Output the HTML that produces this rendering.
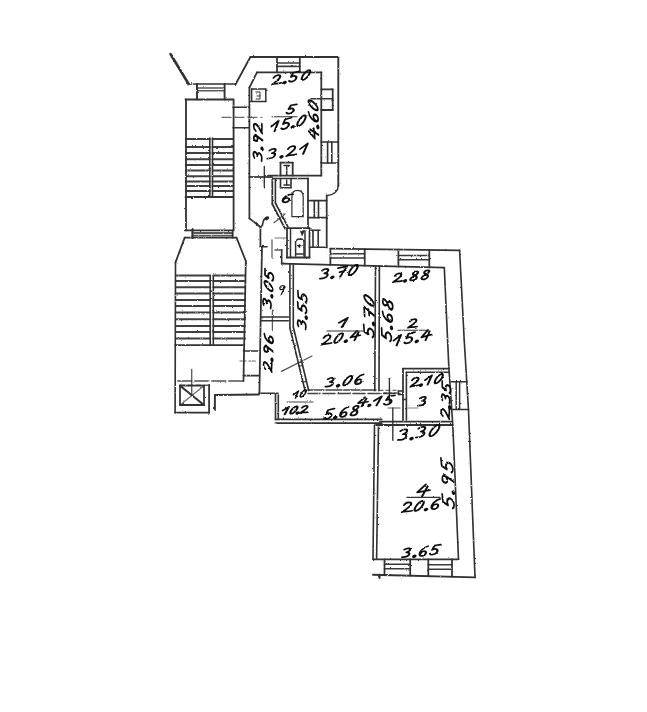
<!DOCTYPE html>
<html><head><meta charset="utf-8"><title>Floor plan</title>
<style>
html,body{margin:0;padding:0;background:#fff;}
body{width:647px;height:712px;overflow:hidden;font-family:"Liberation Sans",sans-serif;}
svg{display:block;}
svg line, svg path, svg circle, svg ellipse{stroke:#303030;stroke-linecap:round;stroke-linejoin:round;}
.t path{stroke:#101010;fill:none;}
</style></head><body>
<svg width="647" height="712" viewBox="0 0 647 712">
<defs><filter id="b" x="-2%" y="-2%" width="104%" height="104%"><feTurbulence type="fractalNoise" baseFrequency="0.6" numOctaves="2" seed="7" result="n0"/><feColorMatrix in="n0" type="matrix" values="1 0 0 0 0  0 1 0 0 0  0 0 1 0 0  0 0 0 0 1" result="n"/><feDisplacementMap in="SourceGraphic" in2="n" scale="2.0" xChannelSelector="R" yChannelSelector="G" result="d"/><feGaussianBlur in="d" stdDeviation="0.5"/></filter></defs>
<rect width="647" height="712" fill="#ffffff" stroke="none"/>
<g filter="url(#b)">
<g fill="none">
<line x1="170.5" y1="54" x2="188.6" y2="84" stroke-width="2.56"/>
<line x1="188.6" y1="84" x2="197" y2="84" stroke-width="1.62" stroke-dasharray="3 2"/>
<line x1="197" y1="84" x2="235.7" y2="84" stroke-width="1.62"/>
<line x1="235.7" y1="84" x2="250.4" y2="57" stroke-width="1.76"/>
<line x1="250.4" y1="57" x2="338.3" y2="57" stroke-width="1.89"/>
<line x1="197" y1="84" x2="197" y2="99.5" stroke-width="1.89"/>
<line x1="224.6" y1="84" x2="224.6" y2="99.5" stroke-width="1.89"/>
<line x1="197" y1="88" x2="224.6" y2="88" stroke-width="1.35" stroke-opacity="0.8"/>
<line x1="197" y1="90.7" x2="224.6" y2="90.7" stroke-width="1.35" stroke-opacity="0.8"/>
<line x1="185.5" y1="99.5" x2="233" y2="99.5" stroke-width="1.76"/>
<line x1="186" y1="99.5" x2="186" y2="230.4" stroke-width="1.82"/>
<line x1="233.6" y1="99.5" x2="233.6" y2="230.4" stroke-width="1.82"/>
<line x1="233" y1="107.2" x2="249.3" y2="107.2" stroke-width="1.62"/>
<line x1="233" y1="127.8" x2="249.3" y2="127.8" stroke-width="1.62"/>
<line x1="222" y1="117.3" x2="262" y2="117.3" stroke-width="1.35" stroke-opacity="0.7" stroke-dasharray="9 4"/>
<line x1="186" y1="139" x2="209.8" y2="139" stroke-width="1.96" stroke-opacity="0.92"/>
<line x1="212.5" y1="139" x2="233" y2="139" stroke-width="1.96" stroke-opacity="0.92"/>
<line x1="186" y1="147" x2="209.8" y2="147" stroke-width="1.96" stroke-opacity="0.92"/>
<line x1="212.5" y1="147" x2="233" y2="147" stroke-width="1.96" stroke-opacity="0.92"/>
<line x1="186" y1="153" x2="209.8" y2="153" stroke-width="1.96" stroke-opacity="0.92"/>
<line x1="212.5" y1="153" x2="233" y2="153" stroke-width="1.96" stroke-opacity="0.92"/>
<line x1="186" y1="159.3" x2="209.8" y2="159.3" stroke-width="1.96" stroke-opacity="0.92"/>
<line x1="212.5" y1="159.3" x2="233" y2="159.3" stroke-width="1.96" stroke-opacity="0.92"/>
<line x1="186" y1="165" x2="209.8" y2="165" stroke-width="1.96" stroke-opacity="0.92"/>
<line x1="212.5" y1="165" x2="233" y2="165" stroke-width="1.96" stroke-opacity="0.92"/>
<line x1="186" y1="170.6" x2="209.8" y2="170.6" stroke-width="1.96" stroke-opacity="0.92"/>
<line x1="212.5" y1="170.6" x2="233" y2="170.6" stroke-width="1.96" stroke-opacity="0.92"/>
<line x1="186" y1="176.3" x2="209.8" y2="176.3" stroke-width="1.96" stroke-opacity="0.92"/>
<line x1="212.5" y1="176.3" x2="233" y2="176.3" stroke-width="1.96" stroke-opacity="0.92"/>
<line x1="186" y1="181.4" x2="209.8" y2="181.4" stroke-width="1.96" stroke-opacity="0.92"/>
<line x1="212.5" y1="181.4" x2="233" y2="181.4" stroke-width="1.96" stroke-opacity="0.92"/>
<line x1="186" y1="186" x2="209.8" y2="186" stroke-width="1.96" stroke-opacity="0.92"/>
<line x1="212.5" y1="186" x2="233" y2="186" stroke-width="1.96" stroke-opacity="0.92"/>
<line x1="186" y1="191" x2="209.8" y2="191" stroke-width="1.96" stroke-opacity="0.92"/>
<line x1="212.5" y1="191" x2="233" y2="191" stroke-width="1.96" stroke-opacity="0.92"/>
<line x1="186" y1="197" x2="209.8" y2="197" stroke-width="1.96" stroke-opacity="0.92"/>
<line x1="212.5" y1="197" x2="233" y2="197" stroke-width="1.96" stroke-opacity="0.92"/>
<line x1="209.8" y1="138" x2="209.8" y2="197" stroke-width="1.62"/>
<line x1="212.5" y1="138" x2="212.5" y2="197" stroke-width="1.62"/>
<line x1="185.5" y1="197" x2="233" y2="197" stroke-width="1.76"/>
<line x1="185.5" y1="230.4" x2="233" y2="230.4" stroke-width="1.76"/>
<line x1="192.5" y1="229" x2="192.5" y2="238" stroke-width="2.16"/>
<line x1="232.6" y1="230.4" x2="232.6" y2="238" stroke-width="1.62"/>
<line x1="192.5" y1="233" x2="232.6" y2="233" stroke-width="1.76" stroke-opacity="0.8"/>
<line x1="192.5" y1="235.6" x2="232.6" y2="235.6" stroke-width="1.76" stroke-opacity="0.8"/>
<line x1="184.7" y1="237.6" x2="236.5" y2="237.6" stroke-width="1.76"/>
<line x1="184.7" y1="237.6" x2="175.5" y2="262.5" stroke-width="1.76"/>
<line x1="236.5" y1="237.6" x2="245.8" y2="261" stroke-width="1.76"/>
<line x1="175.5" y1="262.5" x2="175.1" y2="412.7" stroke-width="1.62"/>
<line x1="245.8" y1="261" x2="243.5" y2="381" stroke-width="1.76"/>
<line x1="176" y1="275.6" x2="210.2" y2="275.6" stroke-width="1.96" stroke-opacity="0.92"/>
<line x1="213.3" y1="275.6" x2="245" y2="275.6" stroke-width="1.96" stroke-opacity="0.92"/>
<line x1="176" y1="281" x2="210.2" y2="281" stroke-width="1.96" stroke-opacity="0.92"/>
<line x1="213.3" y1="281" x2="245" y2="281" stroke-width="1.96" stroke-opacity="0.92"/>
<line x1="176" y1="287.2" x2="210.2" y2="287.2" stroke-width="1.96" stroke-opacity="0.92"/>
<line x1="213.3" y1="287.2" x2="245" y2="287.2" stroke-width="1.96" stroke-opacity="0.92"/>
<line x1="176" y1="293.4" x2="210.2" y2="293.4" stroke-width="1.96" stroke-opacity="0.92"/>
<line x1="213.3" y1="293.4" x2="245" y2="293.4" stroke-width="1.96" stroke-opacity="0.92"/>
<line x1="176" y1="299.9" x2="210.2" y2="299.9" stroke-width="1.96" stroke-opacity="0.92"/>
<line x1="213.3" y1="299.9" x2="245" y2="299.9" stroke-width="1.96" stroke-opacity="0.92"/>
<line x1="176" y1="306" x2="210.2" y2="306" stroke-width="1.96" stroke-opacity="0.92"/>
<line x1="213.3" y1="306" x2="245" y2="306" stroke-width="1.96" stroke-opacity="0.92"/>
<line x1="176" y1="312.4" x2="210.2" y2="312.4" stroke-width="1.96" stroke-opacity="0.92"/>
<line x1="213.3" y1="312.4" x2="245" y2="312.4" stroke-width="1.96" stroke-opacity="0.92"/>
<line x1="176" y1="319.3" x2="210.2" y2="319.3" stroke-width="1.96" stroke-opacity="0.92"/>
<line x1="213.3" y1="319.3" x2="245" y2="319.3" stroke-width="1.96" stroke-opacity="0.92"/>
<line x1="176" y1="326" x2="210.2" y2="326" stroke-width="1.96" stroke-opacity="0.92"/>
<line x1="213.3" y1="326" x2="245" y2="326" stroke-width="1.96" stroke-opacity="0.92"/>
<line x1="176" y1="332" x2="210.2" y2="332" stroke-width="1.96" stroke-opacity="0.92"/>
<line x1="213.3" y1="332" x2="245" y2="332" stroke-width="1.96" stroke-opacity="0.92"/>
<line x1="176" y1="338.5" x2="210.2" y2="338.5" stroke-width="1.96" stroke-opacity="0.92"/>
<line x1="213.3" y1="338.5" x2="245" y2="338.5" stroke-width="1.96" stroke-opacity="0.92"/>
<line x1="175.3" y1="345.2" x2="244.3" y2="345.2" stroke-width="1.76"/>
<line x1="210.2" y1="275.6" x2="210.2" y2="345.2" stroke-width="1.62"/>
<line x1="213.3" y1="275.6" x2="213.3" y2="345.2" stroke-width="1.62"/>
<line x1="177.8" y1="381" x2="243.5" y2="381" stroke-width="1.49" stroke-opacity="0.85" stroke-dasharray="14 3"/>
<line x1="243.5" y1="351" x2="258" y2="351" stroke-width="1.62"/>
<line x1="243.5" y1="375.6" x2="258.5" y2="375.6" stroke-width="1.76"/>
<line x1="240" y1="361" x2="258" y2="361" stroke-width="1.35" stroke-opacity="0.5" stroke-dasharray="6 3"/>
<line x1="175.1" y1="412.7" x2="209.1" y2="412.7" stroke-width="1.76"/>
<line x1="209.1" y1="385" x2="209.1" y2="412.7" stroke-width="1.76"/>
<line x1="180" y1="385.3" x2="209.1" y2="385.3" stroke-width="1.49" stroke-opacity="0.8" stroke-dasharray="5 3"/>
<line x1="180" y1="385.7" x2="204" y2="385.7" stroke-width="1.76"/>
<line x1="204" y1="385.7" x2="204" y2="405" stroke-width="1.76"/>
<line x1="204" y1="405" x2="180" y2="405" stroke-width="1.76"/>
<line x1="180" y1="405" x2="180" y2="385.7" stroke-width="1.76"/>
<line x1="180" y1="385.7" x2="204" y2="405" stroke-width="2.03"/>
<line x1="180" y1="405" x2="204" y2="385.7" stroke-width="1.22" stroke-opacity="0.7"/>
<line x1="191.7" y1="369.5" x2="191.7" y2="394" stroke-width="1.35" stroke-opacity="0.8"/>
<line x1="214.9" y1="395" x2="214.9" y2="409.6" stroke-width="1.89"/>
<line x1="214.9" y1="395" x2="259" y2="394.5" stroke-width="1.76"/>
<line x1="338.3" y1="57" x2="338.3" y2="186" stroke-width="1.89"/>
<line x1="277" y1="57" x2="277" y2="72.3" stroke-width="1.76"/>
<line x1="299.8" y1="57" x2="299.8" y2="72.3" stroke-width="1.76"/>
<line x1="277" y1="63" x2="299.8" y2="63" stroke-width="1.62" stroke-opacity="0.95"/>
<line x1="277" y1="66.4" x2="299.8" y2="66.4" stroke-width="1.62" stroke-opacity="0.95"/>
<line x1="257" y1="72.3" x2="321.3" y2="72.3" stroke-width="1.76"/>
<line x1="257" y1="72.3" x2="249.4" y2="87.6" stroke-width="1.76"/>
<line x1="249.4" y1="87.6" x2="249.4" y2="218.4" stroke-width="1.76"/>
<line x1="321.3" y1="72.3" x2="321.3" y2="175.6" stroke-width="1.76"/>
<line x1="249.4" y1="177" x2="272" y2="177" stroke-width="2.03" stroke-opacity="0.85"/>
<line x1="268" y1="175.6" x2="321.3" y2="175.6" stroke-width="1.89"/>
<line x1="251.6" y1="89" x2="265.8" y2="89" stroke-width="1.49"/>
<line x1="265.8" y1="89" x2="265.8" y2="101.5" stroke-width="1.49"/>
<line x1="265.8" y1="101.5" x2="251.6" y2="101.5" stroke-width="1.49"/>
<line x1="251.6" y1="101.5" x2="251.6" y2="89" stroke-width="1.49"/>
<line x1="321.3" y1="89.3" x2="332.7" y2="89.3" stroke-width="1.76"/>
<line x1="332.7" y1="89.3" x2="332.7" y2="110" stroke-width="1.76"/>
<line x1="332.7" y1="110" x2="321.3" y2="110" stroke-width="1.76"/>
<line x1="311" y1="98.7" x2="332.7" y2="98.7" stroke-width="1.49"/>
<line x1="321.3" y1="142" x2="338" y2="142" stroke-width="1.62"/>
<line x1="321.3" y1="163" x2="338" y2="163" stroke-width="1.62"/>
<line x1="327.6" y1="142" x2="327.6" y2="163" stroke-width="1.62"/>
<line x1="331.8" y1="142" x2="331.8" y2="163" stroke-width="1.62"/>
<line x1="249.4" y1="218.4" x2="260.4" y2="227" stroke-width="1.76"/>
<line x1="260.4" y1="227" x2="260.4" y2="246.7" stroke-width="1.76"/>
<line x1="264.3" y1="166.5" x2="264.3" y2="187.8" stroke-width="1.35"/>
<line x1="272.3" y1="178.5" x2="308" y2="178.5" stroke-width="1.62"/>
<line x1="308" y1="178.5" x2="308" y2="227" stroke-width="1.76"/>
<line x1="272.3" y1="178.5" x2="272.3" y2="204" stroke-width="1.76"/>
<line x1="272.3" y1="204" x2="285" y2="228.6" stroke-width="1.76"/>
<line x1="275.4" y1="178.5" x2="275.4" y2="203" stroke-width="1.62"/>
<line x1="275.4" y1="203" x2="288" y2="227" stroke-width="1.62"/>
<line x1="280.5" y1="175.6" x2="280.5" y2="162.6" stroke-width="1.76"/>
<line x1="280.5" y1="162.6" x2="292.7" y2="162.6" stroke-width="1.76"/>
<line x1="292.7" y1="162.6" x2="292.7" y2="175.6" stroke-width="1.76"/>
<line x1="280.5" y1="178.5" x2="280.5" y2="187.8" stroke-width="1.62"/>
<line x1="280.5" y1="187.8" x2="291" y2="187.8" stroke-width="1.62"/>
<line x1="291" y1="187.8" x2="291" y2="178.5" stroke-width="1.62"/>
<line x1="284" y1="165.5" x2="289.5" y2="165.5" stroke-width="1.49"/>
<line x1="286.7" y1="165.5" x2="286.7" y2="175" stroke-width="1.49"/>
<line x1="284" y1="185" x2="289.5" y2="185" stroke-width="1.35"/>
<line x1="286.7" y1="180" x2="286.7" y2="185" stroke-width="1.35"/>
<line x1="308" y1="200.6" x2="326.7" y2="200.6" stroke-width="1.62"/>
<line x1="308" y1="217.6" x2="326.7" y2="217.6" stroke-width="1.62"/>
<line x1="314.3" y1="200.6" x2="314.3" y2="217.6" stroke-width="1.62"/>
<line x1="318.5" y1="200.6" x2="318.5" y2="217.6" stroke-width="1.62"/>
<line x1="313" y1="230.3" x2="313" y2="247.3" stroke-width="1.62"/>
<line x1="318.2" y1="230.3" x2="318.2" y2="247.3" stroke-width="1.62"/>
<line x1="311" y1="230.3" x2="320" y2="230.3" stroke-width="1.49"/>
<line x1="309.5" y1="247.3" x2="326.7" y2="247.3" stroke-width="1.62"/>
<line x1="326.7" y1="195.5" x2="326.7" y2="247.5" stroke-width="1.76"/>
<line x1="287" y1="228.2" x2="309.5" y2="228.2" stroke-width="1.76"/>
<line x1="309.5" y1="228.2" x2="309.5" y2="257.5" stroke-width="1.76"/>
<line x1="309.5" y1="257.5" x2="287" y2="257.5" stroke-width="1.76"/>
<line x1="287" y1="257.5" x2="287" y2="228.2" stroke-width="1.76"/>
<line x1="290.5" y1="229" x2="290.5" y2="257.5" stroke-width="1.49"/>
<line x1="305" y1="231" x2="305" y2="257.5" stroke-width="1.49"/>
<line x1="295.6" y1="256" x2="295.6" y2="241" stroke-width="1.49"/>
<line x1="295.6" y1="241" x2="298" y2="239.2" stroke-width="1.49"/>
<line x1="298" y1="239.2" x2="302" y2="239.2" stroke-width="1.49"/>
<line x1="302" y1="239.2" x2="304" y2="241" stroke-width="1.49"/>
<line x1="304" y1="241" x2="304" y2="256" stroke-width="1.49"/>
<line x1="295.6" y1="254" x2="304" y2="254" stroke-width="1.35"/>
<line x1="274" y1="222.7" x2="285" y2="214" stroke-width="1.22" stroke-opacity="0.8"/>
<line x1="260.4" y1="246.7" x2="267" y2="246.7" stroke-width="1.62"/>
<line x1="272" y1="239.8" x2="272" y2="258.3" stroke-width="1.22" stroke-opacity="0.8"/>
<line x1="275" y1="238" x2="287" y2="238" stroke-width="1.22" stroke-opacity="0.7"/>
<line x1="275" y1="250" x2="282" y2="250" stroke-width="1.35" stroke-opacity="0.8"/>
<line x1="281.7" y1="249.8" x2="281.7" y2="263.7" stroke-width="1.62"/>
<line x1="281.7" y1="263.7" x2="444.3" y2="267.7" stroke-width="1.76"/>
<line x1="330.4" y1="248.7" x2="459.6" y2="250.4" stroke-width="1.76"/>
<line x1="330.4" y1="248.7" x2="330.4" y2="264.9" stroke-width="1.76"/>
<line x1="364.7" y1="249.2" x2="364.7" y2="265.7" stroke-width="1.76"/>
<line x1="330.4" y1="253.8" x2="364.7" y2="253.8" stroke-width="1.62" stroke-opacity="0.95"/>
<line x1="330.4" y1="258" x2="364.7" y2="258" stroke-width="1.62" stroke-opacity="0.95"/>
<line x1="398.4" y1="249.6" x2="398.4" y2="266.6" stroke-width="1.76"/>
<line x1="429.3" y1="250" x2="429.3" y2="267.3" stroke-width="1.76"/>
<line x1="398.4" y1="255.5" x2="429.3" y2="255.5" stroke-width="1.62" stroke-opacity="0.95"/>
<line x1="398.4" y1="259.8" x2="429.3" y2="259.8" stroke-width="1.62" stroke-opacity="0.95"/>
<line x1="375.5" y1="265.9" x2="374.8" y2="390.8" stroke-width="1.62"/>
<line x1="379.4" y1="266" x2="379" y2="390.8" stroke-width="1.62"/>
<line x1="444.3" y1="267.7" x2="448.9" y2="368.6" stroke-width="1.62"/>
<line x1="448.9" y1="368.6" x2="452.8" y2="425" stroke-width="1.62"/>
<line x1="452.8" y1="425" x2="458.5" y2="559.3" stroke-width="1.62"/>
<line x1="459.6" y1="250.4" x2="464.2" y2="340" stroke-width="1.62"/>
<line x1="464.2" y1="340" x2="468.5" y2="410" stroke-width="1.62"/>
<line x1="468.5" y1="410" x2="475" y2="577.4" stroke-width="1.62"/>
<line x1="262" y1="247" x2="261" y2="300" stroke-width="1.76"/>
<line x1="261" y1="300" x2="259.4" y2="393.5" stroke-width="1.76"/>
<line x1="289.9" y1="263.7" x2="289.9" y2="328" stroke-width="1.62"/>
<line x1="289.9" y1="328" x2="305.3" y2="391.8" stroke-width="1.62"/>
<line x1="293.3" y1="263.7" x2="293.3" y2="327" stroke-width="1.62"/>
<line x1="293.3" y1="327" x2="308.7" y2="390.5" stroke-width="1.62"/>
<line x1="294.212" y1="345.86400000000003" x2="297.61199999999997" y2="345.064" stroke-width="1.22"/>
<line x1="299.14" y1="366.28000000000003" x2="302.53999999999996" y2="365.48" stroke-width="1.22"/>
<line x1="302.99" y1="382.23" x2="306.39" y2="381.43" stroke-width="1.22"/>
<line x1="261" y1="317" x2="288.3" y2="317" stroke-width="1.49"/>
<line x1="261" y1="320.7" x2="288.3" y2="320.7" stroke-width="1.49"/>
<line x1="272.4" y1="310" x2="272.4" y2="329.7" stroke-width="1.22" stroke-opacity="0.8"/>
<line x1="281.5" y1="371.4" x2="312" y2="356" stroke-width="1.22" stroke-opacity="0.85"/>
<line x1="308" y1="390" x2="376" y2="390" stroke-width="1.49" stroke-opacity="0.9" stroke-dasharray="16 2"/>
<line x1="308" y1="393.4" x2="400" y2="393.4" stroke-width="1.49" stroke-opacity="0.9" stroke-dasharray="12 3"/>
<line x1="379" y1="390.3" x2="400" y2="390.3" stroke-width="1.35" stroke-opacity="0.7" stroke-dasharray="4 3"/>
<line x1="259" y1="393.3" x2="278" y2="393.3" stroke-width="1.62"/>
<line x1="275.5" y1="393.5" x2="275.5" y2="419.4" stroke-width="1.62"/>
<line x1="278.3" y1="395" x2="278.3" y2="419.4" stroke-width="1.62"/>
<line x1="275.5" y1="419.4" x2="381.6" y2="419.4" stroke-width="1.76"/>
<line x1="275.5" y1="423.2" x2="381.6" y2="423.2" stroke-width="1.76"/>
<line x1="403" y1="368.6" x2="448.9" y2="368.6" stroke-width="1.76"/>
<line x1="406.4" y1="372.3" x2="448.9" y2="372.3" stroke-width="1.62"/>
<line x1="403" y1="368.6" x2="403" y2="420" stroke-width="1.76"/>
<line x1="406.4" y1="372.3" x2="406.4" y2="420" stroke-width="1.62"/>
<line x1="398.4" y1="391" x2="402.6" y2="391" stroke-width="1.35"/>
<line x1="402.6" y1="391" x2="402.6" y2="394.6" stroke-width="1.35"/>
<line x1="402.6" y1="394.6" x2="398.4" y2="394.6" stroke-width="1.35"/>
<line x1="398.4" y1="394.6" x2="398.4" y2="391" stroke-width="1.35"/>
<line x1="403" y1="399.5" x2="406.4" y2="399.5" stroke-width="1.35"/>
<line x1="380" y1="421.6" x2="451.4" y2="421.6" stroke-width="1.76"/>
<line x1="376" y1="425" x2="452" y2="425" stroke-width="1.76"/>
<line x1="451" y1="381.7" x2="467" y2="381.7" stroke-width="1.49"/>
<line x1="452" y1="409.4" x2="468.4" y2="409.4" stroke-width="1.49"/>
<line x1="456.2" y1="381.7" x2="456.2" y2="409.4" stroke-width="1.49"/>
<line x1="459.6" y1="381.7" x2="459.6" y2="409.4" stroke-width="1.49"/>
<line x1="389.4" y1="378.3" x2="389.4" y2="403" stroke-width="1.35"/>
<line x1="392.8" y1="408" x2="392.8" y2="440.3" stroke-width="1.35"/>
<line x1="388" y1="408" x2="400" y2="408" stroke-width="1.22" stroke-opacity="0.8"/>
<line x1="408" y1="408" x2="418" y2="408" stroke-width="1.08" stroke-opacity="0.6"/>
<line x1="384" y1="393" x2="398" y2="393" stroke-width="1.35" stroke-opacity="0.8" stroke-dasharray="3 2"/>
<line x1="374.5" y1="425" x2="373" y2="559.3" stroke-width="1.62"/>
<line x1="378.5" y1="425" x2="376.6" y2="559.3" stroke-width="1.62"/>
<line x1="373" y1="559.3" x2="458.5" y2="559.3" stroke-width="1.76"/>
<line x1="373" y1="574.7" x2="475" y2="577.4" stroke-width="1.89"/>
<line x1="384.5" y1="559.3" x2="384.5" y2="575" stroke-width="1.76"/>
<line x1="410.2" y1="559.3" x2="410.2" y2="575.6" stroke-width="1.76"/>
<line x1="384.5" y1="564.3" x2="410.2" y2="564.3" stroke-width="1.62" stroke-opacity="0.95"/>
<line x1="384.5" y1="568.7" x2="410.2" y2="568.7" stroke-width="1.62" stroke-opacity="0.95"/>
<line x1="428.3" y1="559.3" x2="428.3" y2="576" stroke-width="1.76"/>
<line x1="452" y1="559.3" x2="452" y2="576.6" stroke-width="1.76"/>
<line x1="428.3" y1="564.7" x2="452" y2="564.7" stroke-width="1.62" stroke-opacity="0.95"/>
<line x1="428.3" y1="569.3" x2="452" y2="569.3" stroke-width="1.62" stroke-opacity="0.95"/>
<line x1="379.5" y1="574.7" x2="379.5" y2="578" stroke-width="2.03"/>

<path d="M338.3 186 Q338 194 326.7 195.8" fill="none" stroke-width="1.4"/>
<path d="M291.9 216.7 L291.9 197 Q291.9 190.4 297.5 190.4 Q303.2 190.4 303.2 197 L303.2 216.7 Z" fill="none" stroke-width="1.2"/>
<circle cx="299.5" cy="246" r="1.3" fill="#111" stroke="none"/>
<path d="M256 92 l4 0 l0 4 l-3 0 m3 0 l0 3 l-4 0" fill="none" stroke-width="1"/>
<path d="M304.5 230.8 l-2.4 4.8 l-1.6 -4.2 z" fill="#222" stroke-width="0.8"/>
<path d="M266.5 217.5 q-3 1.5 -3.5 5 q0 2 -1.5 4" fill="none" stroke-width="1.6"/>
<ellipse cx="267" cy="218.3" rx="1.9" ry="1.3" fill="#111" stroke="none" transform="rotate(-30 267 218.3)"/>

</g>
<g class="t" fill="none">
<g transform="translate(272 85) rotate(-9) scale(1.170 0.900) skewX(-8)"><path d="M1.2,-7.5 C2.5,-10.5 8,-10.8 6.8,-7 C5.8,-4 1,-2 0,-0.3 C2,-1.8 4.5,0.2 8,-0.8" transform="translate(0.00 0)" stroke-width="1.89"/><path d="M0.6,-0.4 L0.9,-0.6" transform="translate(10.20 0)" stroke-width="3.59"/><path d="M8.5,-10.3 L3.3,-9.8 L1.6,-5.5 C5,-7.5 7.5,-4.5 5.5,-1.8 C4,0.2 1,0.2 0,-1.5" transform="translate(14.79 0)" stroke-width="1.89"/><path d="M7.27,-9.75 L7.79,-8.92 L7.78,-7.50 L7.24,-5.69 L6.25,-3.78 L4.97,-2.06 L3.58,-0.78 L2.30,-0.15 L1.33,-0.25 L0.81,-1.08 L0.82,-2.50 L1.36,-4.31 L2.35,-6.22 L3.63,-7.94 L5.02,-9.22 L6.30,-9.85 Z" transform="translate(24.99 0)" stroke-width="1.89"/></g>
<g transform="translate(286.5 114) rotate(-5) scale(1.105 0.850) skewX(-8)"><path d="M8.5,-10.3 L3.3,-9.8 L1.6,-5.5 C5,-7.5 7.5,-4.5 5.5,-1.8 C4,0.2 1,0.2 0,-1.5" transform="translate(0.00 0)" stroke-width="2.00"/></g>
<line x1="272" y1="116.8" x2="297" y2="116.8" stroke-width="1.1"/>
<g transform="translate(271 132) rotate(-12) scale(1.235 0.950) skewX(-8)"><path d="M0.5,-5.5 L6.5,-10 L3,0" transform="translate(0.00 0)" stroke-width="1.79"/><path d="M8.5,-10.3 L3.3,-9.8 L1.6,-5.5 C5,-7.5 7.5,-4.5 5.5,-1.8 C4,0.2 1,0.2 0,-1.5" transform="translate(8.60 0)" stroke-width="1.79"/><path d="M0.6,-0.4 L0.9,-0.6" transform="translate(17.20 0)" stroke-width="3.40"/><path d="M7.27,-9.75 L7.79,-8.92 L7.78,-7.50 L7.24,-5.69 L6.25,-3.78 L4.97,-2.06 L3.58,-0.78 L2.30,-0.15 L1.33,-0.25 L0.81,-1.08 L0.82,-2.50 L1.36,-4.31 L2.35,-6.22 L3.63,-7.94 L5.02,-9.22 L6.30,-9.85 Z" transform="translate(21.07 0)" stroke-width="1.79"/></g>
<g transform="translate(318.5 139.5) rotate(-91) scale(1.235 0.950) skewX(-8)"><path d="M5.5,-10 L0.3,-3.8 L8.5,-4.8 M7,-8.5 L3.8,0" transform="translate(0.00 0)" stroke-width="1.79"/><path d="M0.6,-0.4 L0.9,-0.6" transform="translate(9.30 0)" stroke-width="3.40"/><path d="M7.5,-10 C3.5,-9.5 0.2,-4.5 1,-1.5 C1.8,1 6,0.2 6.2,-3 C6.3,-6 2,-5.5 1.2,-2" transform="translate(13.49 0)" stroke-width="1.79"/><path d="M7.27,-9.75 L7.79,-8.92 L7.78,-7.50 L7.24,-5.69 L6.25,-3.78 L4.97,-2.06 L3.58,-0.78 L2.30,-0.15 L1.33,-0.25 L0.81,-1.08 L0.82,-2.50 L1.36,-4.31 L2.35,-6.22 L3.63,-7.94 L5.02,-9.22 L6.30,-9.85 Z" transform="translate(22.79 0)" stroke-width="1.79"/></g>
<g transform="translate(262.5 161) rotate(-90) scale(1.170 0.900) skewX(-8)"><path d="M1.5,-9 C4,-11 8.5,-10 5.5,-6.5 L3.5,-5.8 C8,-5.5 6.5,0.3 0,-1" transform="translate(0.00 0)" stroke-width="1.89"/><path d="M0.6,-0.4 L0.9,-0.6" transform="translate(9.60 0)" stroke-width="3.59"/><path d="M7.3,-7.2 C6.5,-10.5 2.2,-10.5 2.2,-7.2 C2.2,-4.5 6.2,-5 7.3,-8 L3.8,0" transform="translate(13.92 0)" stroke-width="1.89"/><path d="M1.2,-7.5 C2.5,-10.5 8,-10.8 6.8,-7 C5.8,-4 1,-2 0,-0.3 C2,-1.8 4.5,0.2 8,-0.8" transform="translate(23.52 0)" stroke-width="1.89"/></g>
<g transform="translate(267.5 159.5) rotate(-9) scale(1.235 0.950) skewX(-8)"><path d="M1.5,-9 C4,-11 8.5,-10 5.5,-6.5 L3.5,-5.8 C8,-5.5 6.5,0.3 0,-1" transform="translate(0.00 0)" stroke-width="1.79"/><path d="M0.6,-0.4 L0.9,-0.6" transform="translate(10.70 0)" stroke-width="3.40"/><path d="M1.2,-7.5 C2.5,-10.5 8,-10.8 6.8,-7 C5.8,-4 1,-2 0,-0.3 C2,-1.8 4.5,0.2 8,-0.8" transform="translate(15.51 0)" stroke-width="1.79"/><path d="M0.5,-5.5 L6.5,-10 L3,0" transform="translate(26.21 0)" stroke-width="1.79"/></g>
<g transform="translate(281 201.5) rotate(12) scale(1.140 0.950) skewX(-8)"><path d="M7.5,-10 C3.5,-9.5 0.2,-4.5 1,-1.5 C1.8,1 6,0.2 6.2,-3 C6.3,-6 2,-5.5 1.2,-2" transform="translate(0.00 0)" stroke-width="1.79"/></g>
<g transform="translate(271.5 308.5) rotate(-86) scale(1.170 0.900) skewX(-8)"><path d="M1.5,-9 C4,-11 8.5,-10 5.5,-6.5 L3.5,-5.8 C8,-5.5 6.5,0.3 0,-1" transform="translate(0.00 0)" stroke-width="1.89"/><path d="M0.6,-0.4 L0.9,-0.6" transform="translate(9.60 0)" stroke-width="3.59"/><path d="M7.27,-9.75 L7.79,-8.92 L7.78,-7.50 L7.24,-5.69 L6.25,-3.78 L4.97,-2.06 L3.58,-0.78 L2.30,-0.15 L1.33,-0.25 L0.81,-1.08 L0.82,-2.50 L1.36,-4.31 L2.35,-6.22 L3.63,-7.94 L5.02,-9.22 L6.30,-9.85 Z" transform="translate(13.92 0)" stroke-width="1.89"/><path d="M8.5,-10.3 L3.3,-9.8 L1.6,-5.5 C5,-7.5 7.5,-4.5 5.5,-1.8 C4,0.2 1,0.2 0,-1.5" transform="translate(23.52 0)" stroke-width="1.89"/></g>
<g transform="translate(277.5 295) rotate(-8) scale(1.012 0.880) skewX(-8)"><path d="M7.3,-7.2 C6.5,-10.5 2.2,-10.5 2.2,-7.2 C2.2,-4.5 6.2,-5 7.3,-8 L3.8,0" transform="translate(0.00 0)" stroke-width="1.31"/></g>
<g transform="translate(306.5 329.5) rotate(-89) scale(1.170 0.900) skewX(-8)"><path d="M1.5,-9 C4,-11 8.5,-10 5.5,-6.5 L3.5,-5.8 C8,-5.5 6.5,0.3 0,-1" transform="translate(0.00 0)" stroke-width="1.89"/><path d="M0.6,-0.4 L0.9,-0.6" transform="translate(9.40 0)" stroke-width="3.59"/><path d="M8.5,-10.3 L3.3,-9.8 L1.6,-5.5 C5,-7.5 7.5,-4.5 5.5,-1.8 C4,0.2 1,0.2 0,-1.5" transform="translate(13.63 0)" stroke-width="1.89"/><path d="M8.5,-10.3 L3.3,-9.8 L1.6,-5.5 C5,-7.5 7.5,-4.5 5.5,-1.8 C4,0.2 1,0.2 0,-1.5" transform="translate(23.03 0)" stroke-width="1.89"/></g>
<g transform="translate(272 372) rotate(-88) scale(1.170 0.900) skewX(-8)"><path d="M1.2,-7.5 C2.5,-10.5 8,-10.8 6.8,-7 C5.8,-4 1,-2 0,-0.3 C2,-1.8 4.5,0.2 8,-0.8" transform="translate(0.00 0)" stroke-width="1.89"/><path d="M0.6,-0.4 L0.9,-0.6" transform="translate(9.60 0)" stroke-width="3.59"/><path d="M7.3,-7.2 C6.5,-10.5 2.2,-10.5 2.2,-7.2 C2.2,-4.5 6.2,-5 7.3,-8 L3.8,0" transform="translate(13.92 0)" stroke-width="1.89"/><path d="M7.5,-10 C3.5,-9.5 0.2,-4.5 1,-1.5 C1.8,1 6,0.2 6.2,-3 C6.3,-6 2,-5.5 1.2,-2" transform="translate(23.52 0)" stroke-width="1.89"/></g>
<g transform="translate(320 279.5) rotate(-8) scale(1.235 0.950) skewX(-8)"><path d="M1.5,-9 C4,-11 8.5,-10 5.5,-6.5 L3.5,-5.8 C8,-5.5 6.5,0.3 0,-1" transform="translate(0.00 0)" stroke-width="1.79"/><path d="M0.6,-0.4 L0.9,-0.6" transform="translate(9.30 0)" stroke-width="3.40"/><path d="M1,-9.3 L8.5,-10 L3,0 M2.5,-4.8 L7,-5.5" transform="translate(13.49 0)" stroke-width="1.79"/><path d="M7.27,-9.75 L7.79,-8.92 L7.78,-7.50 L7.24,-5.69 L6.25,-3.78 L4.97,-2.06 L3.58,-0.78 L2.30,-0.15 L1.33,-0.25 L0.81,-1.08 L0.82,-2.50 L1.36,-4.31 L2.35,-6.22 L3.63,-7.94 L5.02,-9.22 L6.30,-9.85 Z" transform="translate(22.79 0)" stroke-width="1.79"/></g>
<g transform="translate(374 337.5) rotate(-90) scale(1.300 1.000) skewX(-8)"><path d="M8.5,-10.3 L3.3,-9.8 L1.6,-5.5 C5,-7.5 7.5,-4.5 5.5,-1.8 C4,0.2 1,0.2 0,-1.5" transform="translate(0.00 0)" stroke-width="1.70"/><path d="M0.6,-0.4 L0.9,-0.6" transform="translate(9.60 0)" stroke-width="3.23"/><path d="M1,-9.3 L8.5,-10 L3,0 M2.5,-4.8 L7,-5.5" transform="translate(13.92 0)" stroke-width="1.70"/><path d="M7.27,-9.75 L7.79,-8.92 L7.78,-7.50 L7.24,-5.69 L6.25,-3.78 L4.97,-2.06 L3.58,-0.78 L2.30,-0.15 L1.33,-0.25 L0.81,-1.08 L0.82,-2.50 L1.36,-4.31 L2.35,-6.22 L3.63,-7.94 L5.02,-9.22 L6.30,-9.85 Z" transform="translate(23.52 0)" stroke-width="1.70"/></g>
<g transform="translate(391.5 341.5) rotate(-88) scale(1.300 1.000) skewX(-8)"><path d="M8.5,-10.3 L3.3,-9.8 L1.6,-5.5 C5,-7.5 7.5,-4.5 5.5,-1.8 C4,0.2 1,0.2 0,-1.5" transform="translate(0.00 0)" stroke-width="1.70"/><path d="M0.6,-0.4 L0.9,-0.6" transform="translate(9.60 0)" stroke-width="3.23"/><path d="M7.5,-10 C3.5,-9.5 0.2,-4.5 1,-1.5 C1.8,1 6,0.2 6.2,-3 C6.3,-6 2,-5.5 1.2,-2" transform="translate(13.92 0)" stroke-width="1.70"/><path d="M5,-5.4 C1.5,-7 3,-10.5 6.2,-10 C9,-9.3 6.5,-6 4.2,-5 C0,-3 0,0 3,0 C7,0 7.5,-4 5,-5.4 Z" transform="translate(23.52 0)" stroke-width="1.70"/></g>
<g transform="translate(338 327.5) rotate(-5) scale(1.320 0.880) skewX(-8)"><path d="M0.5,-5.5 L6.5,-10 L3,0" transform="translate(0.00 0)" stroke-width="1.93"/></g>
<line x1="327" y1="331" x2="363" y2="331" stroke-width="1.1"/>
<g transform="translate(322 345) rotate(-8) scale(1.170 0.900) skewX(-8)"><path d="M1.2,-7.5 C2.5,-10.5 8,-10.8 6.8,-7 C5.8,-4 1,-2 0,-0.3 C2,-1.8 4.5,0.2 8,-0.8" transform="translate(0.00 0)" stroke-width="1.89"/><path d="M7.27,-9.75 L7.79,-8.92 L7.78,-7.50 L7.24,-5.69 L6.25,-3.78 L4.97,-2.06 L3.58,-0.78 L2.30,-0.15 L1.33,-0.25 L0.81,-1.08 L0.82,-2.50 L1.36,-4.31 L2.35,-6.22 L3.63,-7.94 L5.02,-9.22 L6.30,-9.85 Z" transform="translate(9.90 0)" stroke-width="1.89"/><path d="M0.6,-0.4 L0.9,-0.6" transform="translate(19.80 0)" stroke-width="3.59"/><path d="M5.5,-10 L0.3,-3.8 L8.5,-4.8 M7,-8.5 L3.8,0" transform="translate(24.26 0)" stroke-width="1.89"/></g>
<g transform="translate(393 282.5) rotate(-6) scale(1.105 0.850) skewX(-8)"><path d="M1.2,-7.5 C2.5,-10.5 8,-10.8 6.8,-7 C5.8,-4 1,-2 0,-0.3 C2,-1.8 4.5,0.2 8,-0.8" transform="translate(0.00 0)" stroke-width="2.00"/><path d="M0.6,-0.4 L0.9,-0.6" transform="translate(10.20 0)" stroke-width="3.80"/><path d="M5,-5.4 C1.5,-7 3,-10.5 6.2,-10 C9,-9.3 6.5,-6 4.2,-5 C0,-3 0,0 3,0 C7,0 7.5,-4 5,-5.4 Z" transform="translate(14.79 0)" stroke-width="2.00"/><path d="M5,-5.4 C1.5,-7 3,-10.5 6.2,-10 C9,-9.3 6.5,-6 4.2,-5 C0,-3 0,0 3,0 C7,0 7.5,-4 5,-5.4 Z" transform="translate(24.99 0)" stroke-width="2.00"/></g>
<g transform="translate(408 328) rotate(-5) scale(1.105 0.850) skewX(-8)"><path d="M1.2,-7.5 C2.5,-10.5 8,-10.8 6.8,-7 C5.8,-4 1,-2 0,-0.3 C2,-1.8 4.5,0.2 8,-0.8" transform="translate(0.00 0)" stroke-width="2.00"/></g>
<line x1="398" y1="330.3" x2="428" y2="330.3" stroke-width="1.1"/>
<g transform="translate(393 346) rotate(-10) scale(1.235 0.950) skewX(-8)"><path d="M0.5,-5.5 L6.5,-10 L3,0" transform="translate(0.00 0)" stroke-width="1.79"/><path d="M8.5,-10.3 L3.3,-9.8 L1.6,-5.5 C5,-7.5 7.5,-4.5 5.5,-1.8 C4,0.2 1,0.2 0,-1.5" transform="translate(9.40 0)" stroke-width="1.79"/><path d="M0.6,-0.4 L0.9,-0.6" transform="translate(18.80 0)" stroke-width="3.40"/><path d="M5.5,-10 L0.3,-3.8 L8.5,-4.8 M7,-8.5 L3.8,0" transform="translate(23.03 0)" stroke-width="1.79"/></g>
<g transform="translate(325.5 387.5) rotate(-6) scale(1.170 0.900) skewX(-8)"><path d="M1.5,-9 C4,-11 8.5,-10 5.5,-6.5 L3.5,-5.8 C8,-5.5 6.5,0.3 0,-1" transform="translate(0.00 0)" stroke-width="1.89"/><path d="M0.6,-0.4 L0.9,-0.6" transform="translate(10.00 0)" stroke-width="3.59"/><path d="M7.27,-9.75 L7.79,-8.92 L7.78,-7.50 L7.24,-5.69 L6.25,-3.78 L4.97,-2.06 L3.58,-0.78 L2.30,-0.15 L1.33,-0.25 L0.81,-1.08 L0.82,-2.50 L1.36,-4.31 L2.35,-6.22 L3.63,-7.94 L5.02,-9.22 L6.30,-9.85 Z" transform="translate(14.50 0)" stroke-width="1.89"/><path d="M7.5,-10 C3.5,-9.5 0.2,-4.5 1,-1.5 C1.8,1 6,0.2 6.2,-3 C6.3,-6 2,-5.5 1.2,-2" transform="translate(24.50 0)" stroke-width="1.89"/></g>
<g transform="translate(293 398.5) rotate(-10) scale(0.845 0.650) skewX(-8)"><path d="M0.5,-5.5 L6.5,-10 L3,0" transform="translate(0.00 0)" stroke-width="2.00"/><path d="M7.27,-9.75 L7.79,-8.92 L7.78,-7.50 L7.24,-5.69 L6.25,-3.78 L4.97,-2.06 L3.58,-0.78 L2.30,-0.15 L1.33,-0.25 L0.81,-1.08 L0.82,-2.50 L1.36,-4.31 L2.35,-6.22 L3.63,-7.94 L5.02,-9.22 L6.30,-9.85 Z" transform="translate(8.00 0)" stroke-width="2.00"/></g>
<line x1="287" y1="402" x2="313" y2="402" stroke-width="0.9"/>
<g transform="translate(282 414.5) rotate(-4) scale(0.936 0.720) skewX(-8)"><path d="M0.5,-5.5 L6.5,-10 L3,0" transform="translate(0.00 0)" stroke-width="2.36"/><path d="M7.27,-9.75 L7.79,-8.92 L7.78,-7.50 L7.24,-5.69 L6.25,-3.78 L4.97,-2.06 L3.58,-0.78 L2.30,-0.15 L1.33,-0.25 L0.81,-1.08 L0.82,-2.50 L1.36,-4.31 L2.35,-6.22 L3.63,-7.94 L5.02,-9.22 L6.30,-9.85 Z" transform="translate(8.00 0)" stroke-width="2.36"/><path d="M0.6,-0.4 L0.9,-0.6" transform="translate(16.00 0)" stroke-width="4.49"/><path d="M1.2,-7.5 C2.5,-10.5 8,-10.8 6.8,-7 C5.8,-4 1,-2 0,-0.3 C2,-1.8 4.5,0.2 8,-0.8" transform="translate(19.60 0)" stroke-width="2.36"/></g>
<g transform="translate(324 419.5) rotate(-8) scale(1.170 0.900) skewX(-8)"><path d="M8.5,-10.3 L3.3,-9.8 L1.6,-5.5 C5,-7.5 7.5,-4.5 5.5,-1.8 C4,0.2 1,0.2 0,-1.5" transform="translate(0.00 0)" stroke-width="1.89"/><path d="M0.6,-0.4 L0.9,-0.6" transform="translate(9.00 0)" stroke-width="3.59"/><path d="M7.5,-10 C3.5,-9.5 0.2,-4.5 1,-1.5 C1.8,1 6,0.2 6.2,-3 C6.3,-6 2,-5.5 1.2,-2" transform="translate(13.05 0)" stroke-width="1.89"/><path d="M5,-5.4 C1.5,-7 3,-10.5 6.2,-10 C9,-9.3 6.5,-6 4.2,-5 C0,-3 0,0 3,0 C7,0 7.5,-4 5,-5.4 Z" transform="translate(22.05 0)" stroke-width="1.89"/></g>
<g transform="translate(357.5 406.5) rotate(-3) scale(1.144 0.880) skewX(-8)"><path d="M5.5,-10 L0.3,-3.8 L8.5,-4.8 M7,-8.5 L3.8,0" transform="translate(0.00 0)" stroke-width="1.93"/><path d="M0.6,-0.4 L0.9,-0.6" transform="translate(9.40 0)" stroke-width="3.67"/><path d="M0.5,-5.5 L6.5,-10 L3,0" transform="translate(13.63 0)" stroke-width="1.93"/><path d="M8.5,-10.3 L3.3,-9.8 L1.6,-5.5 C5,-7.5 7.5,-4.5 5.5,-1.8 C4,0.2 1,0.2 0,-1.5" transform="translate(23.03 0)" stroke-width="1.93"/></g>
<g transform="translate(410.5 387) rotate(-8) scale(1.118 0.860) skewX(-8)"><path d="M1.2,-7.5 C2.5,-10.5 8,-10.8 6.8,-7 C5.8,-4 1,-2 0,-0.3 C2,-1.8 4.5,0.2 8,-0.8" transform="translate(0.00 0)" stroke-width="1.98"/><path d="M0.6,-0.4 L0.9,-0.6" transform="translate(8.60 0)" stroke-width="3.76"/><path d="M0.5,-5.5 L6.5,-10 L3,0" transform="translate(12.47 0)" stroke-width="1.98"/><path d="M7.27,-9.75 L7.79,-8.92 L7.78,-7.50 L7.24,-5.69 L6.25,-3.78 L4.97,-2.06 L3.58,-0.78 L2.30,-0.15 L1.33,-0.25 L0.81,-1.08 L0.82,-2.50 L1.36,-4.31 L2.35,-6.22 L3.63,-7.94 L5.02,-9.22 L6.30,-9.85 Z" transform="translate(21.07 0)" stroke-width="1.98"/></g>
<g transform="translate(418 406.5) rotate(-8) scale(1.144 0.880) skewX(-8)"><path d="M1.5,-9 C4,-11 8.5,-10 5.5,-6.5 L3.5,-5.8 C8,-5.5 6.5,0.3 0,-1" transform="translate(0.00 0)" stroke-width="1.93"/></g>
<g transform="translate(449.5 419) rotate(-87) scale(1.170 0.900) skewX(-8)"><path d="M1.2,-7.5 C2.5,-10.5 8,-10.8 6.8,-7 C5.8,-4 1,-2 0,-0.3 C2,-1.8 4.5,0.2 8,-0.8" transform="translate(0.00 0)" stroke-width="1.89"/><path d="M0.6,-0.4 L0.9,-0.6" transform="translate(9.00 0)" stroke-width="3.59"/><path d="M1.5,-9 C4,-11 8.5,-10 5.5,-6.5 L3.5,-5.8 C8,-5.5 6.5,0.3 0,-1" transform="translate(13.05 0)" stroke-width="1.89"/><path d="M8.5,-10.3 L3.3,-9.8 L1.6,-5.5 C5,-7.5 7.5,-4.5 5.5,-1.8 C4,0.2 1,0.2 0,-1.5" transform="translate(22.05 0)" stroke-width="1.89"/></g>
<g transform="translate(398 441) rotate(-8) scale(1.365 1.050) skewX(-8)"><path d="M1.5,-9 C4,-11 8.5,-10 5.5,-6.5 L3.5,-5.8 C8,-5.5 6.5,0.3 0,-1" transform="translate(0.00 0)" stroke-width="1.62"/><path d="M0.6,-0.4 L0.9,-0.6" transform="translate(9.20 0)" stroke-width="3.08"/><path d="M1.5,-9 C4,-11 8.5,-10 5.5,-6.5 L3.5,-5.8 C8,-5.5 6.5,0.3 0,-1" transform="translate(13.34 0)" stroke-width="1.62"/><path d="M7.27,-9.75 L7.79,-8.92 L7.78,-7.50 L7.24,-5.69 L6.25,-3.78 L4.97,-2.06 L3.58,-0.78 L2.30,-0.15 L1.33,-0.25 L0.81,-1.08 L0.82,-2.50 L1.36,-4.31 L2.35,-6.22 L3.63,-7.94 L5.02,-9.22 L6.30,-9.85 Z" transform="translate(22.54 0)" stroke-width="1.62"/></g>
<g transform="translate(454.5 508.5) rotate(-92) scale(1.495 1.150) skewX(-8)"><path d="M8.5,-10.3 L3.3,-9.8 L1.6,-5.5 C5,-7.5 7.5,-4.5 5.5,-1.8 C4,0.2 1,0.2 0,-1.5" transform="translate(0.00 0)" stroke-width="1.48"/><path d="M0.6,-0.4 L0.9,-0.6" transform="translate(9.80 0)" stroke-width="2.81"/><path d="M7.3,-7.2 C6.5,-10.5 2.2,-10.5 2.2,-7.2 C2.2,-4.5 6.2,-5 7.3,-8 L3.8,0" transform="translate(14.21 0)" stroke-width="1.48"/><path d="M8.5,-10.3 L3.3,-9.8 L1.6,-5.5 C5,-7.5 7.5,-4.5 5.5,-1.8 C4,0.2 1,0.2 0,-1.5" transform="translate(24.01 0)" stroke-width="1.48"/></g>
<g transform="translate(416.5 496.8) rotate(-5) scale(1.495 1.150) skewX(-8)"><path d="M5.5,-10 L0.3,-3.8 L8.5,-4.8 M7,-8.5 L3.8,0" transform="translate(0.00 0)" stroke-width="1.48"/></g>
<line x1="407" y1="497.4" x2="440" y2="497.4" stroke-width="1.1"/>
<g transform="translate(402 512.5) rotate(-6) scale(1.235 0.950) skewX(-8)"><path d="M1.2,-7.5 C2.5,-10.5 8,-10.8 6.8,-7 C5.8,-4 1,-2 0,-0.3 C2,-1.8 4.5,0.2 8,-0.8" transform="translate(0.00 0)" stroke-width="1.79"/><path d="M7.27,-9.75 L7.79,-8.92 L7.78,-7.50 L7.24,-5.69 L6.25,-3.78 L4.97,-2.06 L3.58,-0.78 L2.30,-0.15 L1.33,-0.25 L0.81,-1.08 L0.82,-2.50 L1.36,-4.31 L2.35,-6.22 L3.63,-7.94 L5.02,-9.22 L6.30,-9.85 Z" transform="translate(9.40 0)" stroke-width="1.79"/><path d="M0.6,-0.4 L0.9,-0.6" transform="translate(18.80 0)" stroke-width="3.40"/><path d="M7.5,-10 C3.5,-9.5 0.2,-4.5 1,-1.5 C1.8,1 6,0.2 6.2,-3 C6.3,-6 2,-5.5 1.2,-2" transform="translate(23.03 0)" stroke-width="1.79"/></g>
<g transform="translate(402 558) rotate(-6) scale(1.170 0.900) skewX(-8)"><path d="M1.5,-9 C4,-11 8.5,-10 5.5,-6.5 L3.5,-5.8 C8,-5.5 6.5,0.3 0,-1" transform="translate(0.00 0)" stroke-width="1.89"/><path d="M0.6,-0.4 L0.9,-0.6" transform="translate(9.80 0)" stroke-width="3.59"/><path d="M7.5,-10 C3.5,-9.5 0.2,-4.5 1,-1.5 C1.8,1 6,0.2 6.2,-3 C6.3,-6 2,-5.5 1.2,-2" transform="translate(14.21 0)" stroke-width="1.89"/><path d="M8.5,-10.3 L3.3,-9.8 L1.6,-5.5 C5,-7.5 7.5,-4.5 5.5,-1.8 C4,0.2 1,0.2 0,-1.5" transform="translate(24.01 0)" stroke-width="1.89"/></g>
</g>
</g>
</svg>
</body></html>
